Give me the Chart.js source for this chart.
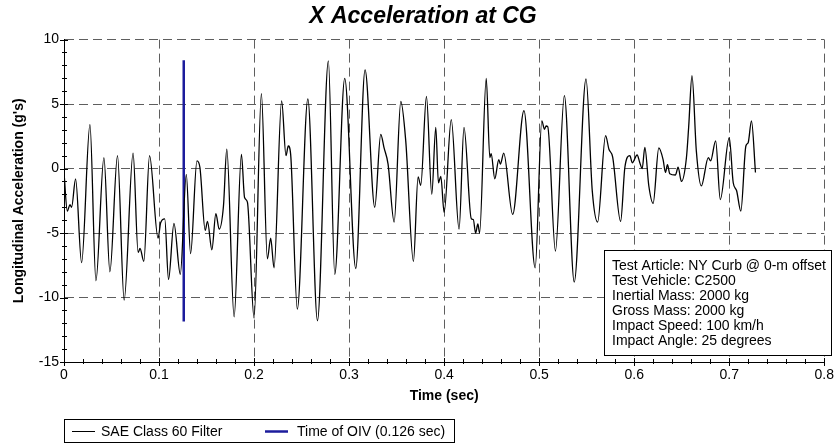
<!DOCTYPE html>
<html>
<head>
<meta charset="utf-8">
<title>X Acceleration at CG</title>
<script src="https://cdn.jsdelivr.net/npm/chart.js@4.4.1/dist/chart.umd.min.js"></script>
<style>
  body { margin: 0; background: #fff; }
  canvas { display: block; }
</style>
</head>
<body>
<canvas id="accChart" width="839" height="446"></canvas>
<script>
// values
const timeSec = [
  0, 0.0035, 0.0063, 0.008, 0.0122, 0.0185, 0.0273, 0.0336, 0.042, 0.0483,
  0.0563, 0.0633, 0.0727, 0.078, 0.080, 0.084, 0.090, 0.099, 0.1017, 0.106,
  0.110, 0.1157, 0.1224, 0.1287, 0.1332, 0.1399, 0.143, 0.1486, 0.151, 0.1556,
  0.1598, 0.1633, 0.1678, 0.1713, 0.179, 0.1867, 0.190, 0.193, 0.200, 0.2077,
  0.214, 0.2175, 0.221, 0.229, 0.2336, 0.236, 0.2385, 0.2455, 0.2566, 0.2667,
  0.2782, 0.2849, 0.2954, 0.307, 0.3168, 0.327, 0.3333, 0.3368, 0.341, 0.3474,
  0.3544, 0.3596, 0.3677, 0.3726, 0.3754, 0.3814, 0.387, 0.3912, 0.394, 0.3965,
  0.400, 0.4075, 0.4157, 0.4209, 0.4286, 0.4307, 0.4331, 0.4355, 0.4373, 0.4443,
  0.4481, 0.4495, 0.4533, 0.4575, 0.4592, 0.4627, 0.4721, 0.484, 0.4958, 0.5028,
  0.5056, 0.5073, 0.509, 0.5171, 0.5265, 0.5369, 0.5493, 0.5559, 0.5615, 0.5699,
  0.5734, 0.5773, 0.5857, 0.5902, 0.5955, 0.5979, 0.6031, 0.6059, 0.6084, 0.6112,
  0.6154, 0.6199, 0.6259, 0.6304, 0.6329, 0.635, 0.6374, 0.6434, 0.6462, 0.6497,
  0.6549, 0.6573, 0.6608, 0.6654, 0.6706, 0.678, 0.6804, 0.6857, 0.6906, 0.700,
  0.7042, 0.7077, 0.7122, 0.7175, 0.7199, 0.7234, 0.7276
];
const accelG = [
  -0.3, -3.3, -2.8, -3.0, -0.8, -7.3, 3.4, -8.7, 0.85, -8.0,
  1.0, -10.2, 1.2, -6.5, -6.2, -7.2, 1.0, -5.4, -4.2, -3.9,
  -8.6, -4.25, -8.2, -0.45, -6.6, 0.6, 0.1, -4.8, -4.1, -6.3,
  -3.5, -4.7, -2.9, 1.5, -11.5, 1.1, -2.25, -2.6, -11.6, 5.8,
  -7.0, -5.4, -7.7, 5.25, 1.0, 1.75, 1.1, -10.9, 5.4, -11.8,
  8.35, -8.2, 7.0, -7.75, 7.65, -3.0, 2.65, 1.6, 0.35, -4.15,
  5.2, 2.15, -7.2, -0.65, -1.3, 5.6, -2.0, 3.2, -1.1, -0.6,
  -3.4, 3.8, -4.7, 3.2, -3.9, -3.95, -5.0, -4.3, -5.0, 7.0,
  0.85, 1.15, -0.8, 0.7, 0.35, 1.2, -3.55, 4.5, -7.7, 3.7,
  3.05, 3.3, 3.25, -6.4, 5.65, -8.8, 6.95, -1.75, -4.15, 2.55,
  1.5, 0.9, -4.1, 0.1, 1.0, 0.45, 1.05, 0.45, 0.0, 1.65,
  -1.35, -2.7, 1.6, 0.7, -0.3, 0.3, -0.4, -0.5, 0.1, -1.0,
  0.8, 3.2, 7.2, 1.35, -1.35, 0.85, 0.6, 2.15, -2.4, 2.4,
  -1.1, -1.7, -3.3, 1.75, 2.0, 3.7, -0.3
];
const oivTime = 0.126;
const oivRange = [8.4, -11.85];

const xTickValues = [0, 0.1, 0.2, 0.3, 0.4, 0.5, 0.6, 0.7, 0.8];
const xTickLabels = ['0', '0.1', '0.2', '0.3', '0.4', '0.5', '0.6', '0.7', '0.8'];
const yTickValues = [-15, -10, -5, 0, 5, 10];
const yTickLabels = ['-15', '-10', '-5', '0', '5', '10'];

const seriesNames = ['SAE Class 60 Filter', 'Time of OIV (0.126 sec)'];
const infoLines = [
  'Test Article: NY Curb @ 0-m offset',
  'Test Vehicle: C2500',
  'Inertial Mass: 2000 kg',
  'Gross Mass: 2000 kg',
  'Impact Speed: 100 km/h',
  'Impact Angle: 25 degrees'
];

const FONT = "'Liberation Sans', Arial, sans-serif";
const OIV_BLUE = '#1c1c9c';

// small ticks on the two axes, plus the text box and the legend box
const extrasPlugin = {
  id: 'extras',
  afterDraw(chart) {
    const ctx = chart.ctx;
    const xs = chart.scales.x, ys = chart.scales.y;
    const area = chart.chartArea;
    ctx.save();
    ctx.strokeStyle = '#000';
    ctx.lineWidth = 1;
    ctx.beginPath();
    for (let i = 0; i <= 40; i++) {
      const px = Math.round(xs.getPixelForValue(i * 0.02)) + 0.5;
      const big = i % 5 === 0;
      ctx.moveTo(px, area.bottom - (big ? 4 : 3));
      ctx.lineTo(px, area.bottom + (big ? 4 : 2));
    }
    for (let v = -15; v <= 10; v++) {
      const py = Math.round(ys.getPixelForValue(v)) + 0.5;
      const big = v % 5 === 0;
      ctx.moveTo(area.left - (big ? 4 : 2), py);
      ctx.lineTo(area.left + (big ? 4 : 3), py);
    }
    ctx.stroke();

    // info box
    ctx.fillStyle = '#fff';
    ctx.fillRect(604, 250, 227, 105);
    ctx.strokeRect(604.5, 250.5, 227, 105);
    ctx.fillStyle = '#000';
    ctx.font = '14px ' + FONT;
    ctx.textBaseline = 'middle';
    ctx.textAlign = 'left';
    infoLines.forEach((s, i) => ctx.fillText(s, 612, 266 + i * 15.1));

    // legend box
    ctx.strokeRect(64.5, 419.5, 390, 23);
    const ly = 431.5;
    const items = [[72, 101], [265, 297]];
    chart.data.datasets.forEach((ds, i) => {
      if (!ds.label) return;
      ctx.strokeStyle = ds.borderColor;
      ctx.lineWidth = i === 0 ? 1 : 2.5;
      ctx.beginPath();
      ctx.moveTo(items[i][0], ly);
      ctx.lineTo(items[i][0] + 23, ly);
      ctx.stroke();
      ctx.fillText(ds.label, items[i][1], ly + 1);
    });
    ctx.restore();
  }
};

const ctx = document.getElementById('accChart').getContext('2d');
const accChart = new Chart(ctx, {
  type: 'line',
  data: {
    datasets: [{
      label: seriesNames[0],
      data: timeSec.map((t, i) => ({ x: t, y: accelG[i] })),
      borderColor: '#000',
      borderWidth: 1.3,
      pointRadius: 0,
      cubicInterpolationMode: 'monotone',
      fill: false
    }, {
      label: seriesNames[1],
      data: oivRange.map(v => ({ x: oivTime, y: v })),
      borderColor: OIV_BLUE,
      borderWidth: 2.5,
      pointRadius: 0,
      tension: 0,
      fill: false
    }]
  },
  options: {
    responsive: false,
    animation: false,
    devicePixelRatio: 1,
    layout: { padding: { left: 7, right: 0, top: 0, bottom: 0 } },
    plugins: {
      legend: { display: false },
      tooltip: { enabled: false },
      title: {
        display: true,
        text: 'X Acceleration at CG',
        color: '#000',
        font: { family: FONT, size: 23, weight: 'bold', style: 'italic' },
        padding: { top: 3, bottom: 9 }
      }
    },
    scales: {
      x: {
        type: 'linear',
        min: 0,
        max: 0.8,
        afterBuildTicks: s => { s.ticks = xTickValues.map(v => ({ value: v })); },
        afterFit: s => { s.height = 84; },
        ticks: {
          color: '#000',
          font: { family: FONT, size: 14 },
          padding: 5,
          maxRotation: 0,
          callback: (v, i) => xTickLabels[i]
        },
        grid: { color: '#5e5e5e', lineWidth: 1, drawTicks: false },
        border: { display: true, color: '#000', width: 1, dash: [9, 5] },
        title: {
          display: true,
          text: 'Time (sec)',
          color: '#000',
          font: { family: FONT, size: 14, weight: 'bold' },
          padding: { top: 0, bottom: 41 }
        }
      },
      y: {
        min: -15,
        max: 10,
        afterBuildTicks: s => { s.ticks = yTickValues.map(v => ({ value: v })); },
        afterFit: s => { s.width = 57; },
        ticks: {
          color: '#000',
          font: { family: FONT, size: 14 },
          padding: 5,
          callback: (v, i) => yTickLabels[i]
        },
        grid: { color: '#5e5e5e', lineWidth: 1, drawTicks: false },
        border: { display: true, color: '#000', width: 1, dash: [9, 5] },
        title: {
          display: true,
          text: "Longitudinal Acceleration (g's)",
          color: '#000',
          font: { family: FONT, size: 14, weight: 'bold' },
          padding: { top: 4, bottom: 0 }
        }
      },
      // empty strip on the right so the plot ends at 0.8 like the original
      gap: {
        position: 'right',
        display: true,
        afterFit: s => { s.width = 13; },
        ticks: { display: false },
        grid: { display: false, drawTicks: false },
        border: { display: false }
      }
    }
  },
  plugins: [extrasPlugin]
});
</script>
</body>
</html>
